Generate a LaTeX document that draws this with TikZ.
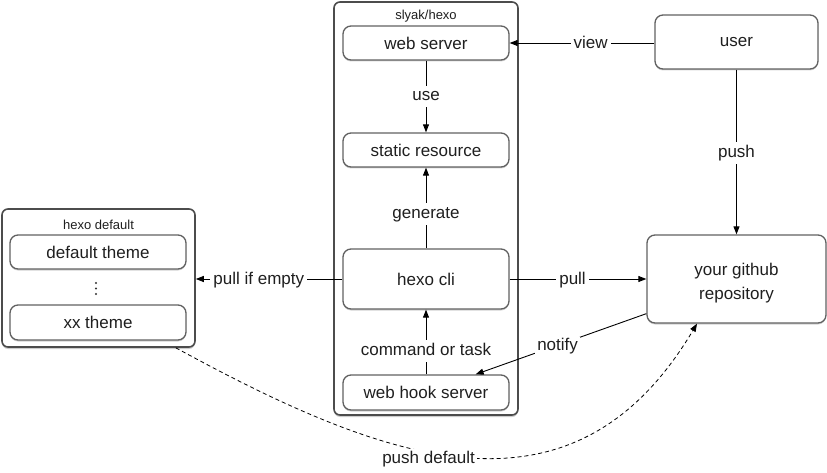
\documentclass[tikz,border=0pt]{standalone}
\usepackage{fontspec}
\setmainfont{Liberation Sans}
\usetikzlibrary{arrows.meta,shadows,calc}
\tikzset{
  box/.style={draw=black!62, line width=1.3pt, rounded corners=8pt, fill=white, inner sep=0pt,
     font=\fontsize{17}{23}\selectfont, text=black!88, align=center,
     drop shadow={opacity=0.35, shadow xshift=0pt, shadow yshift=-1.5pt}},
  outer/.style={draw=black!70, line width=1.6pt, rounded corners=6pt, fill=white, inner sep=0pt,
     drop shadow={opacity=0.4, shadow xshift=0pt, shadow yshift=-2pt}},
  title/.style={font=\fontsize{13}{15}\selectfont, text=black!88},
  conn/.style={draw=black, line width=0.9pt, -{Triangle[length=8pt,width=6pt]}},
  lbl/.style={fill=white, inner sep=3pt, text height=12pt, text depth=3.5pt, yshift=-1.2pt,
     font=\fontsize{17}{20}\selectfont, text=black!88},
  dotmark/.style={circle, fill=black!80, inner sep=0pt, minimum size=2.4pt}
}
\begin{document}
\begin{tikzpicture}[x=1pt,y=-1pt]
\useasboundingbox (0,0) rectangle (827,473);
% containers
\node[outer, minimum width=184pt, minimum height=413pt] (slyak) at (426,208.5) {};
\node[title] (slyaktitle) at (426,16) {slyak/hexo};
\node[outer, minimum width=193pt, minimum height=138pt] (hd) at (98.5,278) {};
\node[title] (hdtitle) at (98.5,225) {hexo default};
% inner boxes
\node[box, minimum width=166pt, minimum height=34pt] (ws) at (426,43) {web server};
\node[box, minimum width=166pt, minimum height=34pt] (sr) at (426,150) {static resource};
\node[box, minimum width=166pt, minimum height=60pt] (cli) at (426,279) {hexo cli};
\node[box, minimum width=166pt, minimum height=35pt] (whs) at (426,392.5) {web hook server};
\node[box, minimum width=176pt, minimum height=34pt] (dt) at (98,252) {default theme};
\node[dotmark] (dot1) at (96,283) {};
\node[dotmark] (dot2) at (96,288.5) {};
\node[dotmark] (dot3) at (96,294) {};
\node[box, minimum width=176pt, minimum height=35pt] (xx) at (98,322.5) {xx theme};
\node[box, minimum width=163pt, minimum height=54pt] (user) at (736.5,42) {user};
\node[box, minimum width=179pt, minimum height=88pt] (gh) at (736.5,279) {\raisebox{-4pt}[\height][\depth]{\begin{tabular}{@{}c@{}}your github\\[1pt]repository\end{tabular}}};
% connectors
\draw[conn] (ws) -- node[lbl, pos=0.48] {use} (sr);
\draw[conn] (cli) -- node[lbl, pos=0.44] {generate} (sr);
\draw[conn] (whs) -- node[lbl, pos=0.38] {command or task} (cli);
\draw[conn] (user.west |- ws.east) -- node[lbl, pos=0.44] {view} (ws.east);
\draw[conn] (user) -- node[lbl, pos=0.5] {push} (gh);
\draw[conn] (cli) -- node[lbl, pos=0.46] {pull} (gh);
\draw[conn] (cli) -- node[lbl, pos=0.57] {pull if empty} (hd.east |- cli.west);
\draw[conn] ([yshift=10pt]gh.south west) -- node[lbl, pos=0.52, inner sep=2pt] {notify} ([xshift=-34pt]whs.north east);
\draw[conn, dashed, dash pattern=on 4pt off 3pt, line width=0.8pt] ([xshift=-20pt]hd.south east)
   .. controls (387,463) and (573,532) .. node[lbl, pos=0.425, yshift=-6pt, inner sep=2pt] {push default} ([xshift=-39.5pt]gh.south);
\end{tikzpicture}
\end{document}
